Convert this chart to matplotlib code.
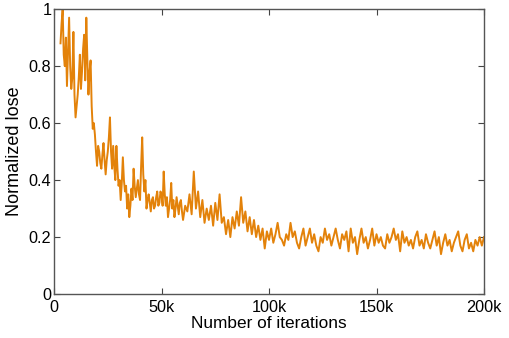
import numpy as np
import matplotlib
matplotlib.use("Agg")
import matplotlib.pyplot as plt

plt.rcParams['font.family'] = ['Liberation Sans', 'DejaVu Sans']

# early part: sampled every 0.5k iterations (3k .. 59.5k)
iters_early_k = np.arange(3.0, 60.0, 0.5)
loss_early = [
    0.88, 0.95, 1.00, 0.84, 0.80, 0.90, 0.73, 0.85, 0.97, 0.80,   # 3.0-7.5k
    0.72, 0.76, 0.92, 0.70, 0.62, 0.66, 0.70, 0.76, 0.84, 0.72,   # 8.0-12.5k
    0.78, 0.86, 0.91, 0.75, 0.97, 0.82, 0.70, 0.78, 0.82, 0.66,   # 13.0-17.5k
    0.58, 0.60, 0.56, 0.50, 0.45, 0.52, 0.50, 0.46, 0.44, 0.49,   # 18.0-22.5k
    0.53, 0.47, 0.42, 0.47, 0.50, 0.55, 0.62, 0.50, 0.44, 0.52,   # 23.0-27.5k
    0.45, 0.40, 0.52, 0.44, 0.38, 0.40, 0.33, 0.39, 0.48, 0.40,   # 28.0-32.5k
    0.36, 0.38, 0.30, 0.35, 0.27, 0.31, 0.37, 0.33, 0.44, 0.38,   # 33.0-37.5k
    0.34, 0.37, 0.40, 0.35, 0.33, 0.45, 0.55, 0.42, 0.36, 0.40,   # 38.0-42.5k
    0.30, 0.33, 0.35, 0.32, 0.29, 0.33, 0.34, 0.30, 0.31, 0.34,   # 43.0-47.5k
    0.36, 0.31, 0.32, 0.36, 0.35, 0.31, 0.43, 0.35, 0.31, 0.34,   # 48.0-52.5k
    0.27, 0.30, 0.33, 0.39, 0.30, 0.33, 0.27, 0.30, 0.34, 0.31,   # 53.0-57.5k
    0.28, 0.32, 0.33, 0.29,                                       # 58.0-59.5k
]

# later part: sampled every 1k iterations (60k .. 200k)
iters_late_k = np.arange(60, 201, 1)
loss_mid = [  # 60k .. 100k
    0.26, 0.31, 0.29, 0.35, 0.28, 0.43, 0.30, 0.36, 0.27, 0.33,
    0.25, 0.30, 0.26, 0.31, 0.24, 0.32, 0.26, 0.35, 0.25, 0.27,
    0.21, 0.26, 0.20, 0.27, 0.23, 0.29, 0.24, 0.34, 0.25, 0.29,
    0.22, 0.27, 0.21, 0.26, 0.20, 0.24, 0.19, 0.23, 0.16, 0.22,
    0.19,
]
loss_late = [  # 101k .. 200k
    0.23, 0.18, 0.21, 0.25, 0.20, 0.19, 0.17, 0.21, 0.19, 0.25,
    0.20, 0.22, 0.18, 0.16, 0.20, 0.23, 0.17, 0.20, 0.23, 0.18,
    0.21, 0.17, 0.15, 0.20, 0.18, 0.23, 0.19, 0.21, 0.17, 0.20,
    0.23, 0.19, 0.16, 0.21, 0.19, 0.22, 0.15, 0.23, 0.18, 0.20,
    0.14, 0.19, 0.23, 0.18, 0.20, 0.16, 0.19, 0.23, 0.17, 0.21,
    0.18, 0.20, 0.17, 0.16, 0.21, 0.18, 0.20, 0.23, 0.19, 0.21,
    0.15, 0.22, 0.18, 0.20, 0.17, 0.19, 0.16, 0.20, 0.22, 0.17,
    0.19, 0.16, 0.21, 0.18, 0.16, 0.19, 0.22, 0.17, 0.20, 0.14,
    0.18, 0.21, 0.17, 0.19, 0.15, 0.18, 0.20, 0.22, 0.17, 0.15,
    0.19, 0.21, 0.16, 0.18, 0.15, 0.19, 0.17, 0.20, 0.17, 0.20,
]

iterations = np.concatenate([iters_early_k, iters_late_k]) * 1000
loss = np.array(loss_early + loss_mid + loss_late)

xticks = [0, 50000, 100000, 150000, 200000]
xtick_labels = ["0", "50k", "100k", "150k", "200k"]
yticks = [0, 0.2, 0.4, 0.6, 0.8, 1.0]
ytick_labels = ["0", "0.2", "0.4", "0.6", "0.8", "1"]

fig = plt.figure(figsize=(5.10, 3.38), dpi=100)
ax = fig.add_axes([0.106, 0.130, 0.843, 0.843])
ax.plot(iterations, loss, color='#E3820A', lw=1.4)
ax.set_xlim(0, 200000)
ax.set_ylim(0, 1)
ax.set_xticks(xticks)
ax.set_xticklabels(xtick_labels)
ax.set_yticks(yticks)
ax.set_yticklabels(ytick_labels)
ax.tick_params(direction='in', top=True, right=True, length=4, width=0.8,
               colors='#444444', labelcolor='black', labelsize=11.7, pad=2)
ax.tick_params(axis='x', pad=4)
for s in ax.spines.values():
    s.set_color('#555555')
    s.set_linewidth(1.0)
ax.set_xlabel('Number of iterations', fontsize=12.4, labelpad=1)
ax.set_ylabel('Normalized lose', fontsize=13, labelpad=4)
fig.savefig('out.png', dpi=100)
